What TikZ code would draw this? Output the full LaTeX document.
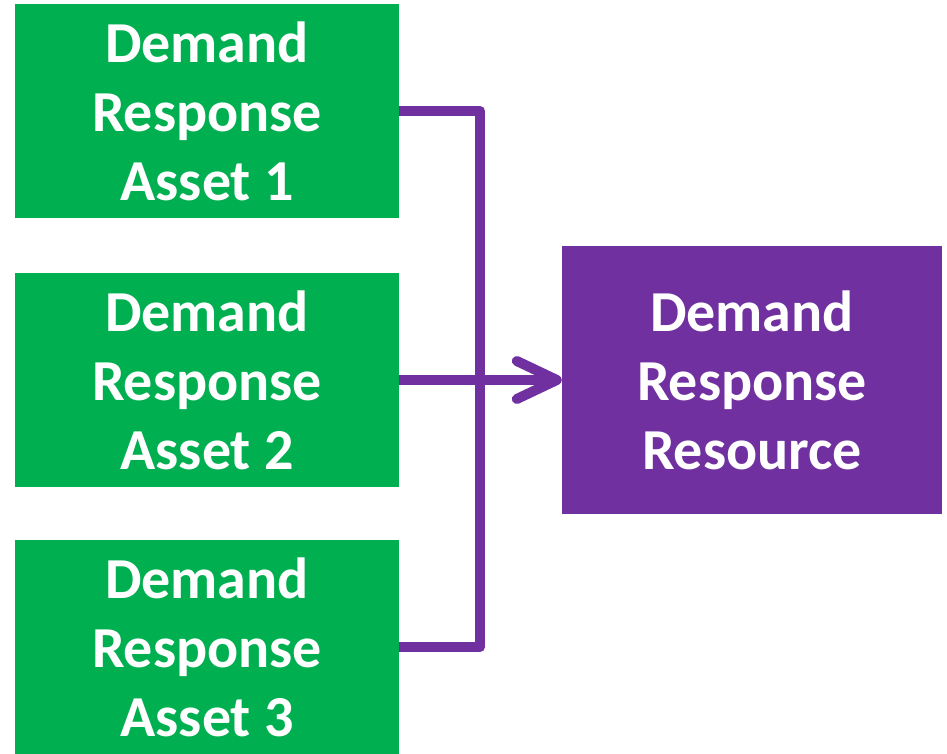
\documentclass[tikz,border=0pt]{standalone}
\usepackage{fontspec}
\setmainfont{Carlito}
\usetikzlibrary{arrows.meta}
\definecolor{drgreen}{HTML}{00B050}
\definecolor{drpurple}{HTML}{7030A0}
\begin{document}
\begin{tikzpicture}[x=1pt, y=-1pt, line join=round, line cap=round,
	box/.style={fill=drgreen, text=white, align=center, inner sep=0pt, minimum width=384pt, minimum height=214pt, font=\fontsize{58}{69}\selectfont\bfseries},
	target/.style={box, fill=drpurple, minimum width=380pt, minimum height=268pt},
	wire/.style={draw=drpurple, line width=10pt}]
	\useasboundingbox (0,0) rectangle (947,753);
	% Assets
	\node[box] (asset1) at (207,111) {Demand\\Response\\Asset 1};
	\node[box] (asset2) at (207,380) {Demand\\Response\\Asset 2};
	\node[box] (asset3) at (207,647) {Demand\\Response\\Asset 3};
	% Resource
	\node[target] (resource) at (752,380) {Demand\\Response\\Resource};
	\coordinate (bus) at (480,380);
	\draw[wire, line cap=butt] (asset1.east) -- (asset1.east -| bus) -- (asset3.east -| bus) -- (asset3.east);
	\draw[wire, line cap=butt, -{Straight Barb[length=40pt, width=38pt, round]}] (asset2.east) -- (resource.west);
\end{tikzpicture}
\end{document}
